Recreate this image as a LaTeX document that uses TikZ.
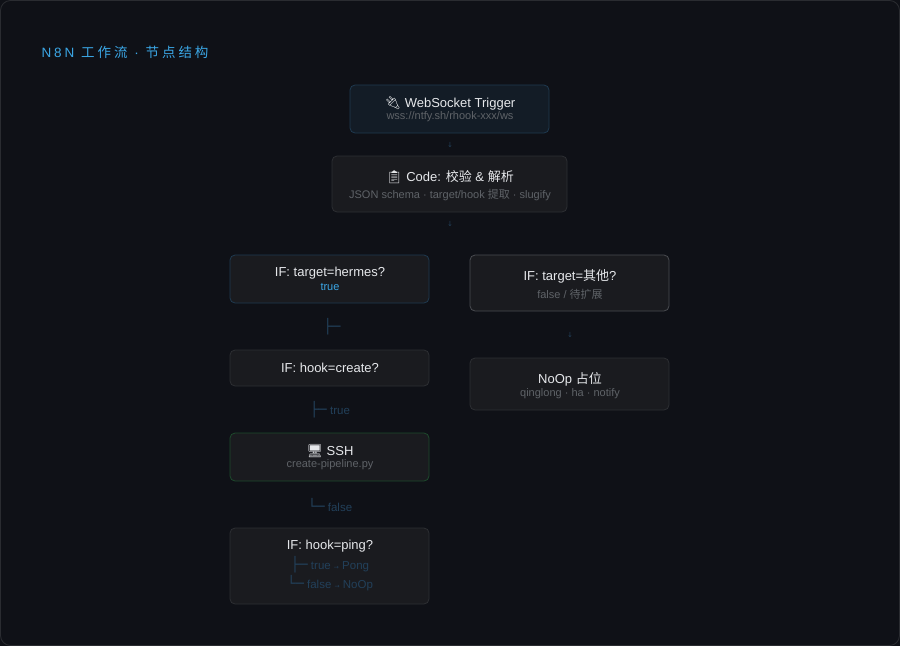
\documentclass[tikz,border=0pt]{standalone}
\usepackage{fontspec}
\setmainfont{Liberation Sans}
\newfontfamily\cjk{Noto Sans CJK SC}
\newfontfamily\cjkls[LetterSpace=22]{Noto Sans CJK SC}
\newfontfamily\emo{Noto Emoji}
\newfontfamily\dv{DejaVu Sans}
\definecolor{bg}{HTML}{0F1117}
\definecolor{outer}{HTML}{2A2C31}
\definecolor{boxf}{HTML}{1A1B1F}
\definecolor{boxb}{HTML}{2D2F33}
\definecolor{blueb}{HTML}{1F3A50}
\definecolor{bluef}{HTML}{131C26}
\definecolor{greenb}{HTML}{1D4A2C}
\definecolor{lightb}{HTML}{4A4C51}
\definecolor{maint}{HTML}{E6E8EB}
\definecolor{subt}{HTML}{5F6368}
\definecolor{dimb}{HTML}{22405A}
\definecolor{accent}{HTML}{3BA7E6}
\begin{document}
\begin{tikzpicture}[x=1pt,y=-1pt,
  card/.style={draw=boxb,fill=boxf,rounded corners=5pt,line width=0.8pt},
  mt/.style={text=maint,font=\fontsize{13}{15}\selectfont},
  st/.style={text=subt,font=\fontsize{11}{13}\selectfont},
  lb/.style={text=dimb,font=\fontsize{11.5}{13}\selectfont},
  ar/.style={text=dimb,font=\dv\fontsize{7}{8}\selectfont}]
\useasboundingbox (0,0) rectangle (900,646);
\fill[bg] (0,0) rectangle (900,646);
\draw[outer,fill=bg,rounded corners=10pt,line width=0.8pt] (0.5,0.5) rectangle (899.5,645.5);
\node[anchor=west,text=accent,font=\fontsize{13.5}{15}\selectfont] (title) at (38,52) {\addfontfeature{LetterSpace=22}N8N {\cjkls 工作流} · {\cjkls 节点结构}};
% boxes
\draw[card,draw=blueb,fill=bluef] (350,85) rectangle (549,133);
\node[mt] (ws) at (450,103) {{\emo 🔌} WebSocket Trigger};
\node[st] (wss) at (450,117) {wss://ntfy.sh/rhook-xxx/ws};
\draw[card] (332,156) rectangle (567,212);
\node[mt] (code) at (450,177) {{\emo 📋} Code: {\cjk 校验} \& {\cjk 解析}};
\node[st] (codes) at (450,195) {JSON schema · target/hook {\cjk 提取} · slugify};
\draw[card,draw=blueb] (230,255) rectangle (429,303);
\node[mt] (ifh) at (330,273) {IF: target=hermes?};
\node[text=accent,font=\fontsize{11}{13}\selectfont] (ifhs) at (330,287) {true};
\draw[card,draw=lightb] (470,255) rectangle (669,311);
\node[mt] (ifo) at (570,276) {IF: target={\cjk 其他}?};
\node[st] (ifos) at (570,294) {false / {\cjk 待扩展}};
\draw[card] (230,350) rectangle (429,386);
\node[mt] (ifc) at (330,368) {IF: hook=create?};
\draw[card] (470,358) rectangle (669,410);
\node[mt] (noop) at (570,379) {NoOp {\cjk 占位}};
\node[st] (noops) at (570,394) {qinglong · ha · notify};
\draw[card,draw=greenb] (230,433) rectangle (429,481);
\node[mt] (ssh) at (330,451) {{\emo 🖥} SSH};
\node[st] (sshs) at (330,465) {create-pipeline.py};
\draw[card] (230,528) rectangle (429,604);
\node[mt] (ifp) at (330,546) {IF: hook=ping?};
\node[lb] (p1) at (330,565) {{\dv\fontsize{14}{14}\selectfont ├─} true {\dv\fontsize{6}{7}\selectfont →} Pong};
\node[lb] (p2) at (330,583) {{\dv\fontsize{14}{14}\selectfont └─} false {\dv\fontsize{6}{7}\selectfont →} NoOp};
% connectors (text glyphs)
\node[ar] (a1) at (450,145) {↓};
\node[ar] (a2) at (450,224) {↓};
\node[ar] (a3) at (570,335) {↓};
\node[lb] (b1) at (332,327) {{\dv\fontsize{14}{14}\selectfont ├─}};
\node[lb] (b2) at (330,410) {{\dv\fontsize{14}{14}\selectfont ├─} true};
\node[lb] (b3) at (330,505) {{\dv\fontsize{14}{14}\selectfont └─} false};
\end{tikzpicture}
\end{document}
